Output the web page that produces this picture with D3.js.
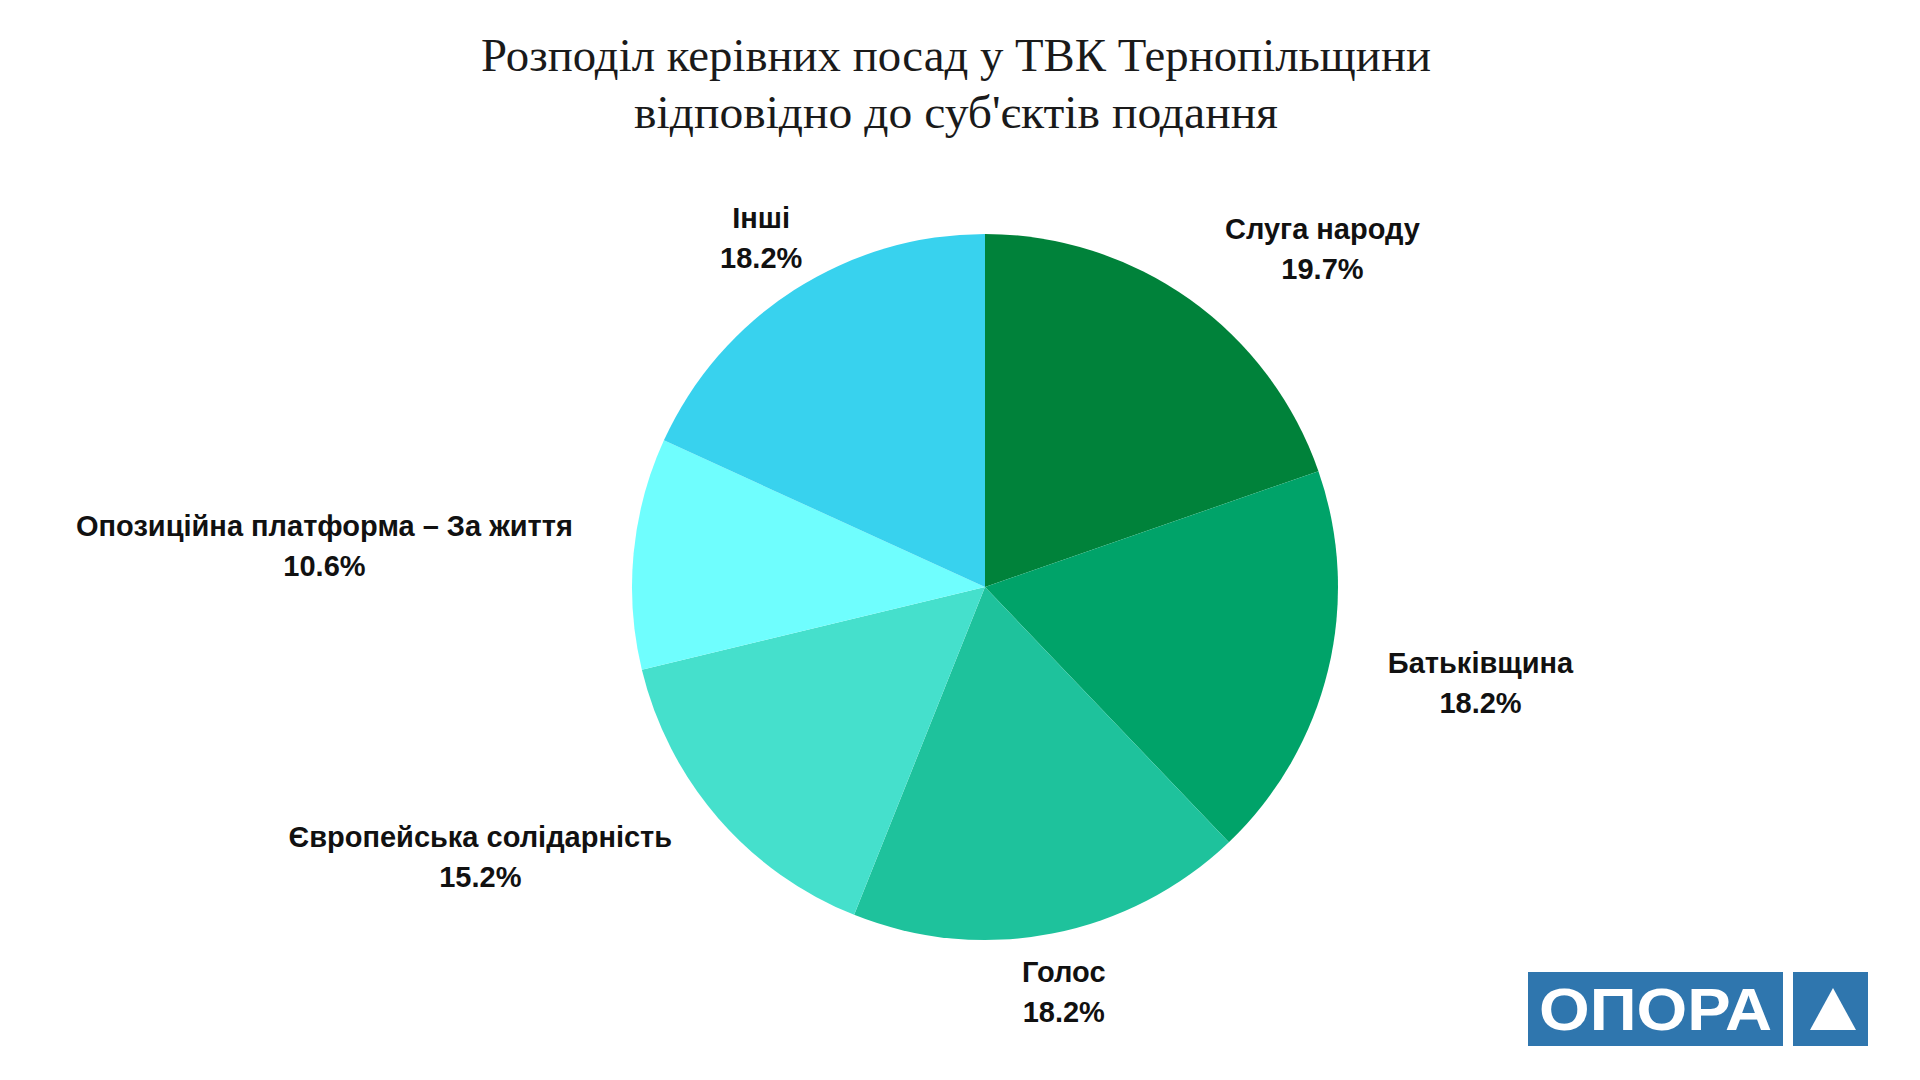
<!DOCTYPE html>
<meta charset="utf-8">
<script src="https://d3js.org/d3.v7.min.js"></script>
<style>
  body { margin: 0; background: #fff; }
</style>
<div id="pie_viz"></div>
<script>

// parties, in the order the slices go round (clockwise from 12 o'clock)
var categories = [
  "Слуга народу",
  "Батьківщина",
  "Голос",
  "Європейська солідарність",
  "Опозиційна платформа – За життя",
  "Інші"
];

// share of leading posts, percent
var shares = [19.7, 18.2, 18.2, 15.2, 10.6, 18.2];

var sliceColors = ["#00823a", "#00a369", "#1ec29c", "#45e0cc", "#6ffefe", "#38d2ee"];

var titleLines = [
  "Розподіл керівних посад у ТВК Тернопільщини",
  "відповідно до суб'єктів подання"
];

var width = 1920,
    height = 1080,
    cx = 985,
    cy = 587,
    radius = 353,
    labelRadius = 414;

var svg = d3.select("#pie_viz")
  .append("svg")
    .attr("width", width)
    .attr("height", height);

svg.append("rect")
  .attr("width", width)
  .attr("height", height)
  .attr("fill", "#fff");

// title
svg.append("g")
  .selectAll("text")
  .data(titleLines)
  .enter()
  .append("text")
    .attr("x", 956)
    .attr("y", function(d, i) { return 71 + i * 57; })
    .attr("text-anchor", "middle")
    .attr("textLength", function(d, i) { return i == 0 ? 950 : 644; })
    .attr("lengthAdjust", "spacingAndGlyphs")
    .style("font-family", "'Liberation Serif', 'DejaVu Serif', serif")
    .style("font-size", "47px")
    .style("fill", "#1a1a1a")
    .text(function(d) { return d; });

var data = categories.map(function(c, i) {
  return {name: c, value: shares[i], color: sliceColors[i]};
});

var pie = d3.pie()
  .sort(null)
  .value(function(d) { return d.value; });

var arcs = pie(data);

var arc = d3.arc()
  .innerRadius(0)
  .outerRadius(radius);

var labelArc = d3.arc()
  .innerRadius(labelRadius)
  .outerRadius(labelRadius);

var g = svg.append("g")
  .attr("transform", "translate(" + cx + "," + cy + ")");

g.selectAll("path")
  .data(arcs)
  .enter()
  .append("path")
    .attr("d", arc)
    .attr("fill", function(d) { return d.data.color; });

// labels: two centred lines; side slices hang the block off the anchor point,
// top/bottom ones are centred on it
var labels = g.selectAll(".lbl")
  .data(arcs)
  .enter()
  .append("text")
    .attr("class", "lbl")
    .attr("text-anchor", "middle")
    .style("font-family", "'Liberation Sans', Arial, sans-serif")
    .style("font-weight", "bold")
    .style("font-size", "29px")
    .style("fill", "#111");

labels.append("tspan")
  .attr("x", 0)
  .attr("y", -11)
  .text(function(d) { return d.data.name; });

labels.append("tspan")
  .attr("x", 0)
  .attr("y", 29)
  .text(function(d) { return d.data.value.toFixed(1) + "%"; });

labels.attr("transform", function(d) {
  var c = labelArc.centroid(d);
  var s = Math.sin((d.startAngle + d.endAngle) / 2);
  var w = this.getBBox().width;
  var shift = 0;
  if (s > 0.56) shift = w / 2;
  if (s < -0.56) shift = -w / 2;
  return "translate(" + (c[0] + shift) + "," + c[1] + ")";
});

// OPORA logo
var logo = svg.append("g");
logo.append("rect")
  .attr("x", 1528).attr("y", 972)
  .attr("width", 255).attr("height", 74)
  .attr("fill", "#2f76ae");
logo.append("rect")
  .attr("x", 1793).attr("y", 972)
  .attr("width", 75).attr("height", 74)
  .attr("fill", "#2f76ae");
logo.append("text")
  .attr("x", 1539)
  .attr("y", 1030)
  .attr("textLength", 233)
  .attr("lengthAdjust", "spacingAndGlyphs")
  .style("font-family", "'Liberation Sans Narrow', 'Liberation Sans', Arial, sans-serif")
  .style("font-weight", "bold")
  .style("font-size", "60px")
  .style("fill", "#fff")
  .text("ОПОРА");
logo.append("path")
  .attr("d", "M1833,988 L1856,1030 L1810,1030 Z")
  .attr("fill", "#fff");

</script>
